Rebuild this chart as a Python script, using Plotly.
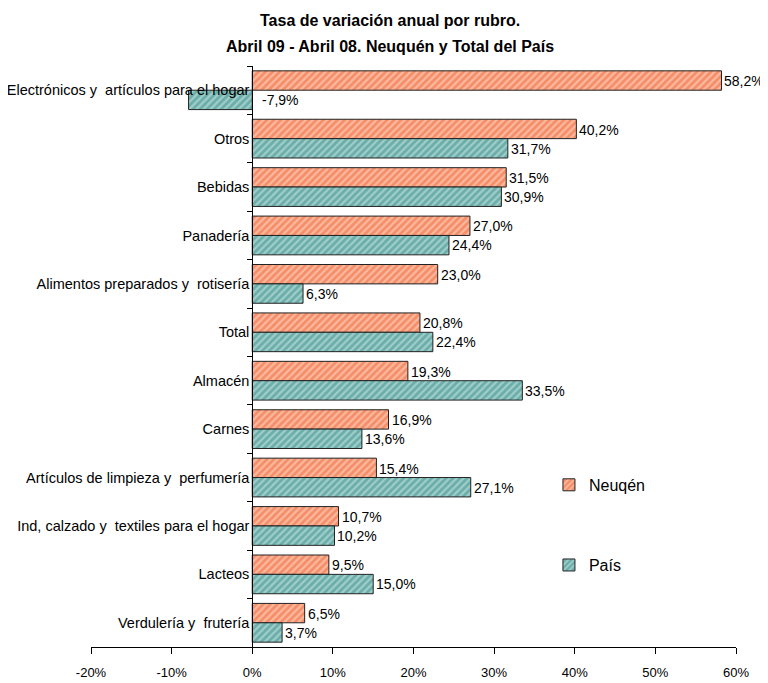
import plotly.graph_objects as go

categories = [
    "Electrónicos y  artículos para el hogar",
    "Otros",
    "Bebidas",
    "Panadería",
    "Alimentos preparados y  rotisería",
    "Total",
    "Almacén",
    "Carnes",
    "Artículos de limpieza y  perfumería",
    "Ind, calzado y  textiles para el hogar",
    "Lacteos",
    "Verdulería y  frutería",
]
neuquen = [58.2, 40.2, 31.5, 27.0, 23.0, 20.8, 19.3, 16.9, 15.4, 10.7, 9.5, 6.5]
pais = [-7.9, 31.7, 30.9, 24.4, 6.3, 22.4, 33.5, 13.6, 27.1, 10.2, 15.0, 3.7]
x_ticks = [-20, -10, 0, 10, 20, 30, 40, 50, 60]

FONT = "Liberation Sans, Arial, sans-serif"

def fmt(v):
    return f"{v:.1f}%".replace(".", ",")

fig = go.Figure()
fig.add_trace(go.Bar(
    y=categories, x=neuquen, orientation="h", name="Neuqén",
    marker=dict(color="#F7A080", line=dict(color="#222222", width=1),
                pattern=dict(shape="/", bgcolor="#F58E68", fgcolor="#FFE4D6",
                             size=5, solidity=0.45, fillmode="overlay")),
    legend="legend", showlegend=True,
))
fig.add_trace(go.Bar(
    y=categories, x=pais, orientation="h", name="País",
    marker=dict(color="#74B5B1", line=dict(color="#222222", width=1),
                pattern=dict(shape="/", bgcolor="#6AADA9", fgcolor="#D6EEEC",
                             size=5, solidity=0.45, fillmode="overlay")),
    legend="legend2", showlegend=True,
))

annotations = []
for c, v in zip(categories, neuquen):
    annotations.append(dict(x=max(v, 0), y=c, xref="x", yref="y", text=fmt(v),
                            showarrow=False, xanchor="left", yanchor="middle",
                            xshift=1, yshift=9, font=dict(size=14, color="black", family=FONT)))
for c, v in zip(categories, pais):
    annotations.append(dict(x=max(v, 0), y=c, xref="x", yref="y", text=fmt(v),
                            showarrow=False, xanchor="left", yanchor="middle",
                            xshift=1 if v >= 0 else 8, yshift=-10,
                            font=dict(size=14, color="black", family=FONT)))
annotations.append(dict(
    x=0.463, y=1.079, xref="paper", yref="paper", xanchor="center", yanchor="middle",
    text="<b>Tasa de variación anual por rubro.</b>",
    showarrow=False, font=dict(size=16, family=FONT, color="black"),
))
annotations.append(dict(
    x=0.463, y=1.034, xref="paper", yref="paper", xanchor="center", yanchor="middle",
    text="<b>Abril 09 - Abril 08. Neuquén y Total del País</b>",
    showarrow=False, font=dict(size=16, family=FONT, color="black"),
))

fig.update_layout(
    width=760, height=675,
    margin=dict(l=83, r=32, t=58, b=36),
    paper_bgcolor="white", plot_bgcolor="white",
    showlegend=True,
    barmode="group", bargap=0.2, bargroupgap=0.0,
    font=dict(family=FONT, size=13, color="black"),
    annotations=annotations,
    legend=dict(x=0.71, y=0.279, xanchor="left", yanchor="middle", itemwidth=30,
                bgcolor="rgba(0,0,0,0)", font=dict(size=16, family=FONT)),
    legend2=dict(x=0.71, y=0.141, xanchor="left", yanchor="middle", itemwidth=30,
                 bgcolor="rgba(0,0,0,0)", font=dict(size=16, family=FONT)),
    xaxis=dict(range=[-20, 60], tickvals=x_ticks, ticktext=[f"{t}%" for t in x_ticks],
               showgrid=False, zeroline=False, showline=True, linecolor="black", linewidth=1,
               ticks="outside", ticklen=6, tickcolor="black", ticklabelstandoff=7,
               tickfont=dict(size=13, family=FONT), automargin=False),
    yaxis=dict(autorange="reversed", anchor="free", position=0.25,
               showgrid=False, zeroline=False, showline=True, linecolor="black", linewidth=1,
               ticks="outside", ticklen=5, tickcolor="black", tickson="boundaries",
               tickfont=dict(size=14.5, family=FONT), automargin=False),
)

fig.write_html("out.html")
